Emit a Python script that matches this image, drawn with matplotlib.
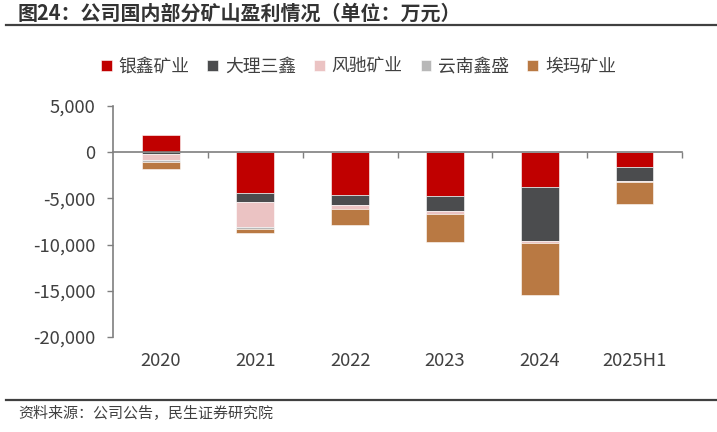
import numpy as np
import matplotlib

matplotlib.use("Agg")
import matplotlib.pyplot as plt
from matplotlib.ticker import FuncFormatter

plt.rcParams["font.family"] = ["Noto Sans CJK SC", "DejaVu Sans"]
plt.rcParams["axes.unicode_minus"] = False

# --------------------------------------------------------------------------- #
# Data (万元)
# --------------------------------------------------------------------------- #
years = ["2020", "2021", "2022", "2023", "2024", "2025H1"]
series_names = ["银鑫矿业", "大理三鑫", "风驰矿业", "云南鑫盛", "埃玛矿业"]
yinxin = [1850, -4420, -4670, -4780, -3800, -1630]
dali = [-200, -1010, -1090, -1630, -5800, -1520]
fengchi = [-690, -2720, -400, -290, -290, -110]
yunnan = [-150, -150, 0, 0, 0, 0]
aima = [-830, -470, -1700, -3080, -5620, -2320]

colors = ["#C00000", "#4B4C4E", "#EBC3C3", "#B8B8B8", "#B97943"]
TEXT = "#404040"
AXIS = "#7F7F7F"

fig = plt.figure(figsize=(7.17, 4.32), dpi=100)
ax = fig.add_axes([0.158, 0.22, 0.793, 0.535])

x = np.arange(len(years))
pos_bottom = np.zeros(len(years))
neg_bottom = np.zeros(len(years))
for name, vals, c in zip(series_names, [yinxin, dali, fengchi, yunnan, aima], colors):
    v = np.array(vals, dtype=float)
    bottom = np.where(v >= 0, pos_bottom, neg_bottom)
    ax.bar(x, v, 0.4, bottom=bottom, color=c, label=name,
           edgecolor="white", linewidth=0.4)
    pos_bottom += np.clip(v, 0, None)
    neg_bottom += np.clip(v, None, 0)

ax.set_xlim(-0.5, len(years) - 0.5)
ax.set_ylim(-20000, 5000)
ax.set_yticks(np.arange(-20000, 5001, 5000))
ax.yaxis.set_major_formatter(FuncFormatter(lambda v, _: f"{v:,.0f}"))
ax.tick_params(axis="y", colors=AXIS, labelcolor=TEXT, labelsize=13.3,
               length=4, width=1, pad=9)

# zero line with boundary ticks
ax.spines["bottom"].set_position(("data", 0))
ax.spines["bottom"].set_color(AXIS)
ax.spines["bottom"].set_linewidth(1.2)
ax.set_xticks(np.arange(len(years)) + 0.5)
ax.tick_params(axis="x", colors=AXIS, length=4, width=1, labelbottom=False)
ax.spines["left"].set_color(AXIS)
ax.spines["left"].set_linewidth(1.2)
for s in ["top", "right"]:
    ax.spines[s].set_visible(False)

# category labels at the bottom of the plot
sec = ax.secondary_xaxis(0)
sec.set_xticks(x, years)
sec.tick_params(length=0, labelsize=13.3, labelcolor=TEXT, pad=11)
sec.spines["bottom"].set_visible(False)

ax.legend(loc="lower left", bbox_to_anchor=(-0.05, 1.06), ncol=5, frameon=False,
          fontsize=12.8, handlelength=0.6, handleheight=0.6, handletextpad=0.4,
          columnspacing=1.0, labelcolor=TEXT)

# title and source
fig.text(0.025, 0.97, "图24：公司国内部分矿山盈利情况（单位：万元）", fontsize=14.4,
         fontweight="bold", color="#333333", va="center", ha="left")
fig.add_artist(plt.Line2D([0.008, 1.0], [0.943, 0.943], color="#404040", lw=1.6))
fig.add_artist(plt.Line2D([0.008, 1.0], [0.073, 0.073], color="#404040", lw=1.6))
fig.text(0.025, 0.043, "资料来源：公司公告，民生证券研究院", fontsize=10.8,
         color="#404040", va="center", ha="left")

fig.savefig("out.png", dpi=100)
